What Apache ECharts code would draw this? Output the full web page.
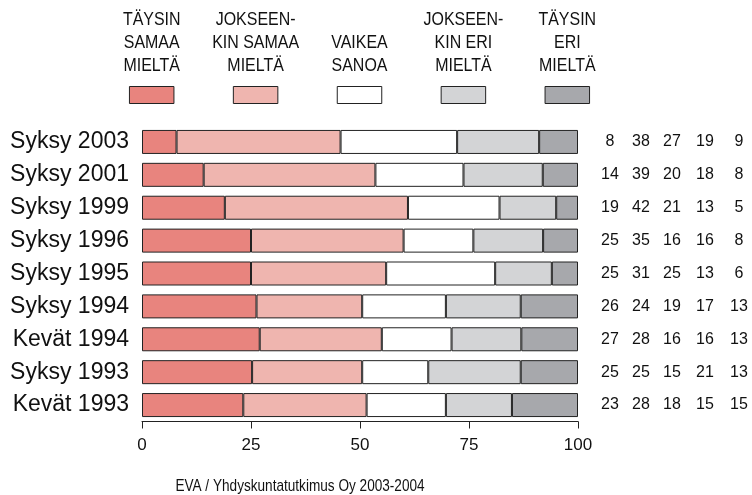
<!DOCTYPE html>
<html>
<head>
<meta charset="utf-8">
<script src="https://cdn.jsdelivr.net/npm/echarts@6/dist/echarts.min.js"></script>
<style>html,body{margin:0;padding:0;background:#fff;}#c{width:752px;height:495px;}</style>
</head>
<body>
<div id="c"></div>
<script>
var categories = ['Syksy 2003','Syksy 2001','Syksy 1999','Syksy 1996','Syksy 1995','Syksy 1994','Kevät 1994','Syksy 1993','Kevät 1993'];
var seriesNames = ['TÄYSIN\nSAMAA\nMIELTÄ','JOKSEEN-\nKIN SAMAA\nMIELTÄ','VAIKEA\nSANOA','JOKSEEN-\nKIN ERI\nMIELTÄ','TÄYSIN\nERI\nMIELTÄ'];
var taysinSamaa = [8,14,19,25,25,26,27,25,23];
var jokseenkinSamaa = [38,39,42,35,31,24,28,25,28];
var vaikeaSanoa = [27,20,21,16,25,19,16,15,18];
var jokseenkinEri = [19,18,13,16,13,17,16,21,15];
var taysinEri = [9,8,5,8,6,13,13,13,15];
var xTicks = [0,25,50,75,100];
var colors = ['#E8847E','#EFB5AF','#FFFFFF','#D3D4D6','#A7A8AC'];

var raw = [taysinSamaa, jokseenkinSamaa, vaikeaSanoa, jokseenkinEri, taysinEri];
var totals = categories.map(function(_, i){ return raw.reduce(function(s, a){ return s + a[i]; }, 0); });

var numStyle = function(w){ return { width: w, align: 'center', fontSize: 16, fontFamily: 'Liberation Sans', color: '#111' }; };

var series = raw.map(function(arr, k){
  var s = {
    name: seriesNames[k],
    type: 'bar',
    stack: 'all',
    barWidth: 24,
    data: arr.map(function(v, i){ return v / totals[i] * 100; }),
    itemStyle: { color: colors[k], borderColor: '#222', borderWidth: 1 },
    emphasis: { disabled: true },
    animation: false
  };
  if (k === 4) {
    s.label = {
      show: true,
      position: 'right',
      distance: 16,
      padding: 0,
      formatter: function(p){
        var i = p.dataIndex;
        return '{a|' + raw[0][i] + '}{b|' + raw[1][i] + '}{c|' + raw[2][i] + '}{d|' + raw[3][i] + '}{e|' + raw[4][i] + '}';
      },
      rich: { a: numStyle(32), b: numStyle(30), c: numStyle(32), d: numStyle(34), e: numStyle(34) }
    };
  }
  return s;
});

var boxW = 44.5, boxH = 17, boxY = 86.5;
var centers = [151.7, 255.6, 359.5, 463.4, 567.3];
var graphics = [];
centers.forEach(function(cx, k){
  graphics.push({
    type: 'rect', silent: true,
    shape: { x: cx - boxW/2, y: boxY, width: boxW, height: boxH },
    style: { fill: colors[k], stroke: '#222', lineWidth: 1 }
  });
  graphics.push({
    type: 'text', silent: true, x: cx, y: 77.5, scaleX: 0.84,
    style: { text: seriesNames[k], x: 0, y: 0, textAlign: 'center', align: 'center',
      textVerticalAlign: 'bottom', verticalAlign: 'bottom',
      font: '19px "Liberation Sans"', lineHeight: 23, fill: '#111' }
  });
});
graphics.push({
  type: 'text', silent: true, x: 300, y: 486, scaleX: 0.8,
  style: { text: 'EVA / Yhdyskuntatutkimus Oy 2003-2004', x: 0, y: 0, textAlign: 'center', align: 'center',
    textVerticalAlign: 'middle', verticalAlign: 'middle', font: '17px "Liberation Sans"', fill: '#111' }
});

var chart = echarts.init(document.getElementById('c'), null, { renderer: 'canvas' });
chart.setOption({
  animation: false,
  backgroundColor: '#fff',
  grid: { left: 142, right: 174, top: 125.5, bottom: 73.5, containLabel: false },
  xAxis: {
    type: 'value', min: 0, max: 100, interval: 25,
    axisLine: { show: true, lineStyle: { color: '#222', width: 1 } },
    axisTick: { show: true, length: 7, lineStyle: { color: '#222' } },
    axisLabel: { fontSize: 17, fontFamily: 'Liberation Sans', color: '#111', margin: 15,
      formatter: function(v){ return xTicks.indexOf(v) >= 0 ? String(v) : ''; } },
    splitLine: { show: false }
  },
  yAxis: {
    type: 'category', data: categories, inverse: true,
    axisLine: { show: false }, axisTick: { show: false },
    axisLabel: { fontSize: 23, fontFamily: 'Liberation Sans', color: '#111', margin: 13 }
  },
  series: series,
  graphic: graphics
});
</script>
</body>
</html>
